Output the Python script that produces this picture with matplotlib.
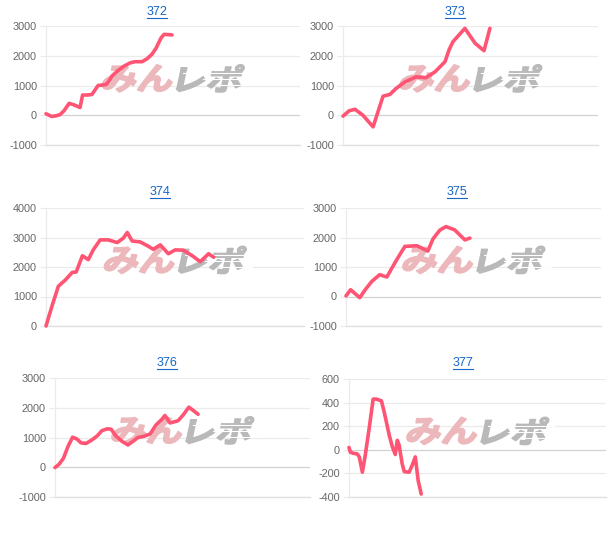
import matplotlib
matplotlib.use("Agg")
import matplotlib.pyplot as plt
from matplotlib.font_manager import FontProperties
from matplotlib.textpath import TextPath
from matplotlib.patches import PathPatch
from matplotlib.transforms import Affine2D
from matplotlib.lines import Line2D

# machine numbers and their difference-coin graphs (x = progress through the day, 0-100)
titles = ["372", "373", "374", "375", "376", "377"]

x_372 = [0, 2.2, 3.9, 5.5, 7.1, 9.1, 11.0, 13.4, 14.4, 16.5, 18.1, 20.5, 23.6, 24.8, 26.0,
         28.3, 30.7, 33.1, 35.0, 37.8, 39.8, 41.7, 43.3, 45.3, 46.5, 49.6]
y_372 = [50, -40, -20, 20, 150, 400, 350, 260, 680, 680, 700, 1000, 1030, 1150, 1320,
         1500, 1650, 1760, 1800, 1800, 1900, 2050, 2250, 2600, 2720, 2700]

x_373 = [0, 2.4, 4.7, 7.8, 11.8, 15.7, 18.4, 20.8, 24.3, 28.6, 32.5, 36.1, 40.0, 41.6,
         43.1, 47.8, 51.8, 55.3, 57.6]
y_373 = [-30, 150, 200, 0, -390, 640, 700, 900, 1120, 1290, 1260, 1460, 1800, 2200,
         2470, 2920, 2420, 2170, 2920]

x_374 = [0, 2.4, 4.8, 7.5, 10.2, 11.7, 14.1, 16.4, 18.3, 21.0, 24.1, 27.6, 30.0, 31.5,
         33.4, 36.5, 39.3, 41.6, 44.3, 47.4, 50.1, 53.2, 56.7, 59.8, 63.0, 65.0]
y_374 = [0, 700, 1350, 1560, 1820, 1830, 2380, 2250, 2580, 2920, 2920, 2830, 2980, 3170,
         2880, 2850, 2720, 2600, 2750, 2450, 2580, 2570, 2380, 2180, 2450, 2330]

x_375 = [0, 1.8, 5.4, 7.7, 10.1, 13.2, 16.0, 19.9, 23.1, 27.8, 32.1, 34.1, 36.8, 39.2,
         42.6, 46.6, 48.6]
y_375 = [20, 230, -40, 250, 510, 740, 660, 1250, 1700, 1720, 1540, 1950, 2250, 2370,
         2260, 1920, 1980]

x_376 = [0, 1.6, 3.3, 5.1, 6.9, 8.6, 10.2, 12.2, 14.5, 16.5, 18.4, 20.4, 22.0, 23.9, 26.3,
         28.6, 31.0, 32.5, 34.9, 37.3, 39.6, 42.0, 43.1, 45.1, 48.2, 50.2, 52.5, 54.5, 56.1]
y_376 = [-10, 100, 300, 700, 1010, 950, 820, 800, 920, 1050, 1230, 1290, 1280, 1050, 870,
         750, 900, 1000, 1040, 1120, 1420, 1620, 1740, 1490, 1560, 1750, 2020, 1890, 1780]

x_377 = [0, 0.5, 1.7, 3.2, 4.0, 5.2, 6.3, 7.9, 9.4, 10.6, 12.6, 13.7, 14.5, 15.7, 16.8,
         18.0, 18.8, 19.5, 20.7, 21.5, 23.4, 24.6, 25.8, 26.9, 28.1]
y_377 = [20, -20, -30, -35, -60, -190, -50, 190, 430, 430, 415, 320, 240, 120, 30,
         -40, 80, 40, -120, -185, -190, -130, -60, -260, -375]

ticks_a = [-1000, 0, 1000, 2000, 3000]
ticks_b = [0, 1000, 2000, 3000, 4000]
ticks_c = [-400, -200, 0, 200, 400, 600]

series = [(x_372, y_372, ticks_a), (x_373, y_373, ticks_a), (x_374, y_374, ticks_b),
          (x_375, y_375, ticks_a), (x_376, y_376, ticks_a), (x_377, y_377, ticks_c)]

# pixel boxes (left, right, top, bottom) and title centres
boxes = [(46, 300, 26, 145), (343, 598, 26, 145), (46, 304, 208, 326),
         (346, 601, 208, 326), (55, 310, 378, 497), (349, 606, 379, 497)]
title_pos = [(157, 12), (455, 12), (160, 192), (457, 192), (167, 363), (463, 363)]

W, H = 616, 534
line_col = "#ff5473"
grid_col = "#ebebeb"
zero_col = "#d2d2d2"

fig = plt.figure(figsize=(W / 100, H / 100), dpi=100)
fp = FontProperties(family="Noto Sans CJK JP", weight="bold")


def watermark(ax, axw, axh):
    # "みん" pink + "レポ" grey, heavy and slanted, a bit above the middle
    parts = [("みん", -72, 3, "#ecb8bb"), ("レポ", 3, 72, "#b9b9b9")]
    for txt, x0, x1, col in parts:
        p = TextPath((0, 0), txt, size=100, prop=fp)
        bb = p.get_extents()
        tr = (Affine2D().translate(-bb.x0, -bb.y0)
              .scale((x1 - x0 - 6) / bb.width, 27 / bb.height)
              .skew_deg(12, 0)
              .translate(x0, -13.5))
        path = tr.transform_path(p)
        t = Affine2D().scale(1 / axw, 1 / axh).translate(0.5, 0.56) + ax.transAxes
        ax.add_patch(PathPatch(path, facecolor=col, edgecolor=col, lw=1.3,
                               joinstyle="round", transform=t, zorder=1.5))
    # speed stripes through the grey part
    for yy, xa, xb in [(5, 10, 76), (-1, 30, 77), (-7, 45, 77)]:
        t = Affine2D().scale(1 / axw, 1 / axh).translate(0.5, 0.56) + ax.transAxes
        ax.add_line(Line2D([xa, xb], [yy, yy], color="white", lw=0.8, transform=t, zorder=1.6))


title_texts = []
for (xs, ys, ticks), (l, r, t, b), (tx, ty), name in zip(series, boxes, title_pos, titles):
    ax = fig.add_axes([l / W, 1 - b / H, (r - l) / W, (b - t) / H])
    ax.plot(xs, ys, color=line_col, lw=2.6, solid_joinstyle="round",
            solid_capstyle="round", zorder=3, clip_on=False)
    ax.set_xlim(0, 100)
    ax.set_ylim(ticks[0], ticks[-1])
    ax.set_yticks(ticks)
    ax.set_yticklabels([str(v) for v in ticks], fontfamily="Liberation Sans",
                       fontsize=7.8, color="#666666")
    ax.set_xticks([])
    ax.tick_params(axis="y", length=4.5, width=0.8, color=grid_col, pad=2)
    for v in ticks:
        ax.axhline(v, color=zero_col if v == 0 else grid_col, lw=0.9, zorder=1)
    for s in ["top", "right"]:
        ax.spines[s].set_visible(False)
    ax.spines["left"].set_color(grid_col)
    ax.spines["left"].set_linewidth(0.9)
    ax.spines["bottom"].set_color("#dedede")
    ax.spines["bottom"].set_linewidth(0.9)
    ax.set_facecolor("none")
    watermark(ax, r - l, b - t)
    tt = fig.text(tx / W, 1 - ty / H, name, ha="center", va="center",
                  fontfamily="Liberation Sans", fontsize=9, color="#1467c8")
    title_texts.append(tt)

# underline the titles like links
fig.canvas.draw()
rend = fig.canvas.get_renderer()
for tt in title_texts:
    bb = tt.get_window_extent(rend)
    yline = bb.y0 + 0.5
    fig.add_artist(Line2D([bb.x0 / W, bb.x1 / W], [yline / H, yline / H],
                          color="#1467c8", lw=0.8, transform=fig.transFigure))

fig.savefig("out.png", dpi=100)
